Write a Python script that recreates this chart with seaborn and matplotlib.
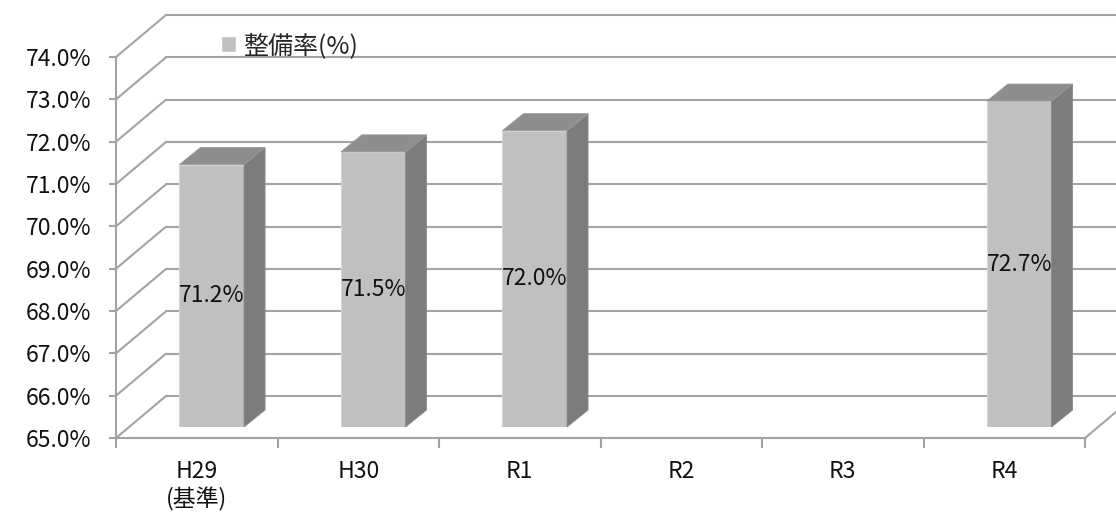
import numpy as np
import pandas as pd
import matplotlib.pyplot as plt
import seaborn as sns
from matplotlib.patches import Polygon, Patch

# data
categories = ['H29\n(基準)', 'H30', 'R1', 'R2', 'R3', 'R4']
rates = [71.2, 71.5, 72.0, np.nan, np.nan, 72.7]
y_ticks = [65, 66, 67, 68, 69, 70, 71, 72, 73, 74]
series_name = '整備率(%)'

sns.set_style('white')
plt.rcParams['font.family'] = ['Noto Sans CJK JP', 'DejaVu Sans']

grid = '#a3a3a3'
front = '#c0c0c0'
side = '#7c7c7c'
top = '#8e8e8e'
fs = 16.5

W, H = 1116, 522
fig = plt.figure(figsize=(W / 100, H / 100), dpi=100)

# front plane of the 3D box, in pixels
x0, x1 = 116, 1085
y0, y1 = 438, 57
ax = fig.add_axes([x0 / W, 1 - y0 / H, (x1 - x0) / W, (y0 - y1) / H])
ax.set_facecolor('none')
ax.set_xlim(-0.5, 5.5)
ax.set_ylim(65, 74)

ux = (x1 - x0) / 6   # px per category
uy = (y0 - y1) / 9   # px per percent
ddx, ddy = 50 / ux, 42 / uy   # depth of the box

# back wall gridlines + left wall diagonals
for v in y_ticks:
    ax.plot([-0.5 + ddx, 5.5 + ddx], [v + ddy, v + ddy], color=grid, lw=1.5, clip_on=False)
    ax.plot([-0.5, -0.5 + ddx], [v, v + ddy], color=grid, lw=1.5, clip_on=False)
# floor right edge
ax.plot([5.5, 5.5 + ddx], [65, 65 + ddy], color=grid, lw=1.5, clip_on=False)

for s in ['top', 'right']:
    ax.spines[s].set_visible(False)
for s in ['left', 'bottom']:
    ax.spines[s].set_color(grid)
    ax.spines[s].set_linewidth(1.5)

ax.set_yticks(y_ticks)
ax.set_yticklabels([f'{v:.1f}%' for v in y_ticks], fontsize=fs)
ax.set_xticks(range(len(categories)))
ax.set_xticklabels(categories, fontsize=fs, linespacing=1.2)
ax.set_xticks(np.arange(-0.5, len(categories)), minor=True)
ax.tick_params(axis='y', left=True, length=5, width=1.5, color=grid, pad=13, labelcolor='#111111')
ax.tick_params(axis='x', which='major', bottom=False, length=0, pad=16, labelcolor='#111111')
ax.tick_params(axis='x', which='minor', bottom=True, length=7, width=1.5, color=grid)

# bars sit a bit behind the front plane
ax_b = fig.add_axes([(x0 + 15) / W, 1 - (y0 - 11) / H, (x1 - x0) / W, (y0 - y1) / H])
ax_b.set_facecolor('none')
df = pd.DataFrame({'year': categories, 'rate': rates})
sns.barplot(data=df, x='year', y='rate', order=categories, color=front, saturation=1,
            width=0.4, edgecolor='#d6d6d6', linewidth=0.8, ax=ax_b)
ax_b.set_xlim(-0.5, 5.5)
ax_b.set_ylim(65, 74)
ax_b.axis('off')

bw = 0.4
bdx, bdy = 21 / ux, 17 / uy
for i, v in enumerate(rates):
    if np.isnan(v):
        continue
    r = i + bw / 2
    l = i - bw / 2
    ax_b.add_patch(Polygon([(r, 65), (r + bdx, 65 + bdy), (r + bdx, v + bdy), (r, v)],
                           closed=True, facecolor=side, edgecolor='#8a8a8a', lw=0.6))
    ax_b.add_patch(Polygon([(l, v), (r, v), (r + bdx, v + bdy), (l + bdx, v + bdy)],
                           closed=True, facecolor=top, edgecolor='#9a9a9a', lw=0.6))
    ax_b.text(i, (65 + v) / 2, f'{v:.1f}%', ha='center', va='center', fontsize=fs, color='#111111')

fig.legend(handles=[Patch(facecolor=front, label=series_name)], loc='center left',
           bbox_to_anchor=(221 / W, 1 - 46 / H), frameon=False, fontsize=18,
           handlelength=0.6, handleheight=0.6, handletextpad=0.3,
           borderpad=0, borderaxespad=0)

fig.savefig('out.png', dpi=100)
